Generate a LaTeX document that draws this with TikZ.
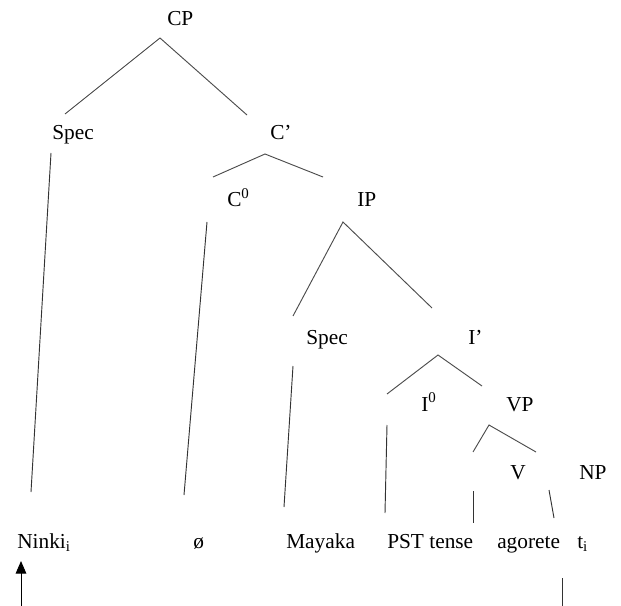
\documentclass[tikz,border=0pt]{standalone}
\usepackage{fontspec}
\setmainfont{Liberation Serif}
\usetikzlibrary{arrows.meta}
\tikzset{
  lbl/.style={anchor=base west, inner sep=0pt, font=\fontsize{16}{19}\selectfont},
  branch/.style={draw=black!70, line width=0.7pt},
  stem/.style={draw=black!80, line width=0.7pt}
}

\begin{document}
\begin{tikzpicture}[x=0.75pt,y=-0.75pt]
\useasboundingbox (0,0) rectangle (621,606);

% Category labels
\node[lbl] (cp) at (167,26) {CP};
\node[lbl] (specA) at (52,140) {Spec};
\node[lbl] (cbar) at (270,140) {C’};
\node[lbl] (czero) at (227,207) {C\textsuperscript{0}};
\node[lbl] (ip) at (357,207) {IP};
\node[lbl] (specB) at (306,344) {Spec};
\node[lbl] (ibar) at (468,344) {I’};
\node[lbl] (izero) at (421,411) {I\textsuperscript{0}};
\node[lbl] (vp) at (506,411) {VP};
\node[lbl] (v) at (510,479) {V};
\node[lbl] (np) at (579,479) {NP};

% Words
\node[lbl] (ninki) at (17,548) {Ninki\textsubscript{i}};
\node[lbl] (empty) at (193,548) {ø};
\node[lbl] (mayaka) at (286,548) {Mayaka};
\node[lbl] (pst) at (387,548) {PST tense};
\node[lbl] (agorete) at (497,548) {agorete};
\node[lbl] (trace) at (577,548) {t\textsubscript{i}};

% Branch points
\coordinate (cpT) at (160,38);   \coordinate (cpL) at (65,114);  \coordinate (cpR) at (247,115);
\coordinate (cbT) at (265,154);  \coordinate (cbL) at (213,177); \coordinate (cbR) at (323,177);
\coordinate (ipT) at (343,222);  \coordinate (ipL) at (293,316); \coordinate (ipR) at (432,308);
\coordinate (ibT) at (438,355);  \coordinate (ibL) at (387,394); \coordinate (ibR) at (482,386);
\coordinate (vpT) at (489,425);  \coordinate (vpL) at (473,452); \coordinate (vpR) at (536,452);

% Stem ends
\coordinate (saT) at (51,153);   \coordinate (saB) at (31,492);
\coordinate (czT) at (207,222);  \coordinate (czB) at (184,495);
\coordinate (sbT) at (293,366);  \coordinate (sbB) at (284,507);
\coordinate (izT) at (387,425);  \coordinate (izB) at (385,513);
\coordinate (vaT) at (473,491);  \coordinate (vaB) at (473,523);
\coordinate (vbT) at (549,490);  \coordinate (vbB) at (554,518);
\coordinate (arB) at (21,606);   \coordinate (arT) at (21,561);
\coordinate (trT) at (562,578);  \coordinate (trB) at (562,606);

% Tree branches
\draw[branch] (cpL) -- (cpT) -- (cpR);
\draw[branch] (cbL) -- (cbT) -- (cbR);
\draw[branch] (ipL) -- (ipT) -- (ipR);
\draw[branch] (ibL) -- (ibT) -- (ibR);
\draw[branch] (vpL) -- (vpT) -- (vpR);

% Stems down to the words
\draw[stem] (saT) -- (saB);
\draw[stem] (czT) -- (czB);
\draw[stem] (sbT) -- (sbB);
\draw[stem] (izT) -- (izB);
\draw[stem] (vaT) -- (vaB);
\draw[stem] (vbT) -- (vbB);

% Movement
\draw[stem, draw=black, -{Triangle[length=9.5pt,width=8pt]}] (arB) -- (arT);
\draw[stem] (trT) -- (trB);
\end{tikzpicture}
\end{document}
